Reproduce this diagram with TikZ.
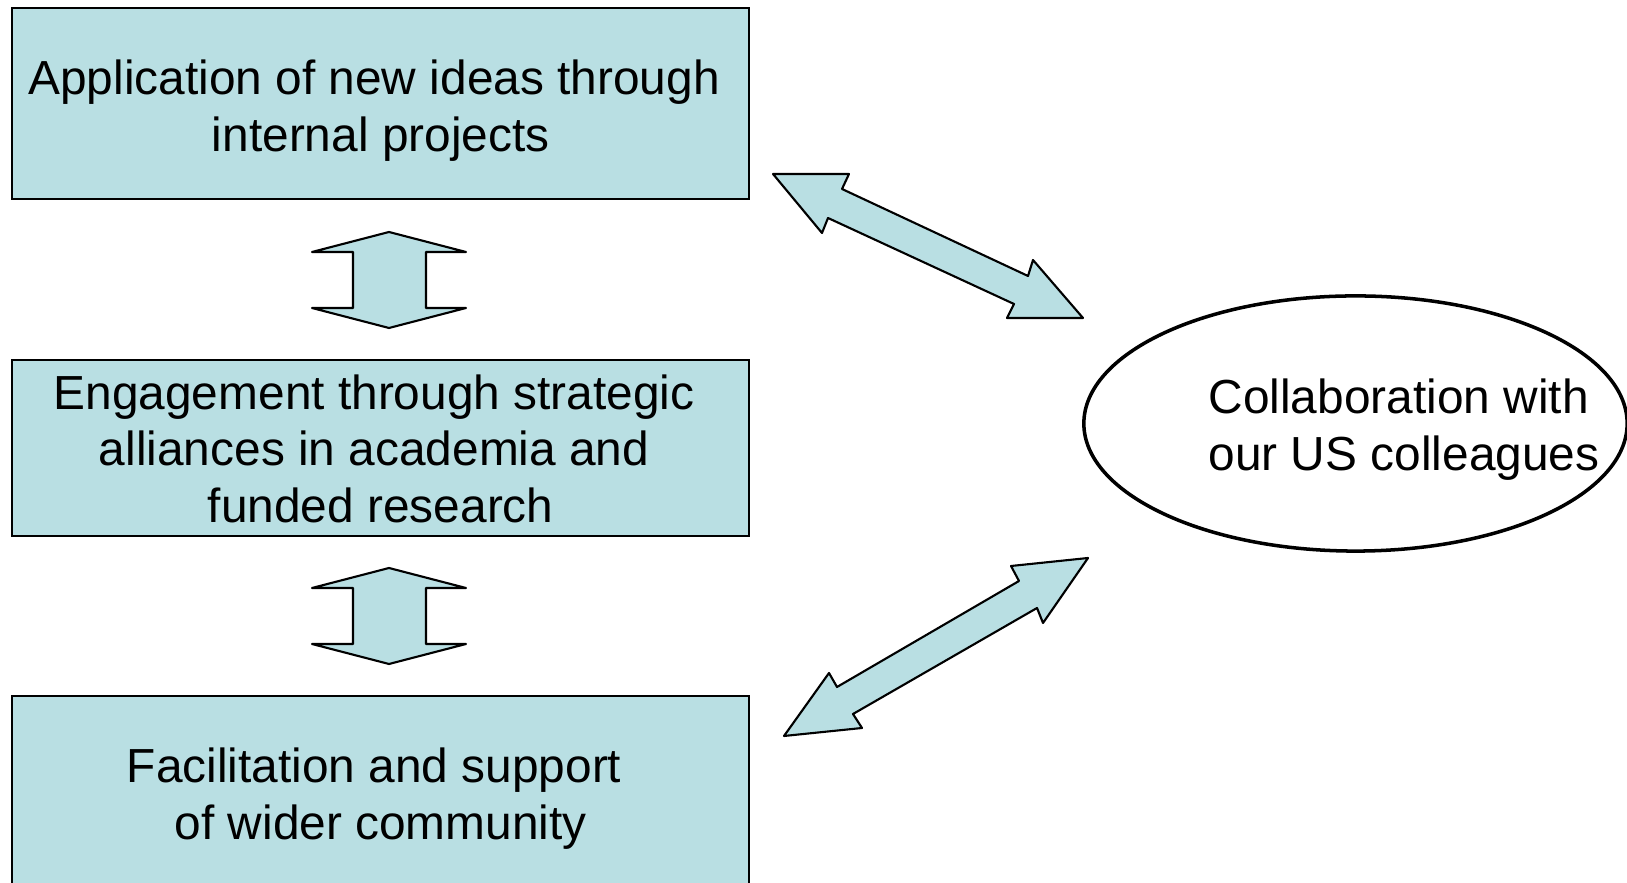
\documentclass[tikz,border=0pt]{standalone}
\usepackage{fontspec}
\setmainfont{Liberation Sans}
\usepackage{xcolor}
\usetikzlibrary{shapes.geometric}
\definecolor{paleblue}{RGB}{185,223,227}
\tikzset{
    boxnode/.style = {rectangle, draw=black, fill=paleblue, line width=0.6pt, inner sep=0pt, minimum width=7.365cm},
    boxtext/.style = {align=center, inner sep=0pt},
    collabnode/.style = {ellipse, draw=black, line width=1pt, minimum width=5.43cm, minimum height=2.55cm},
    blockarrow/.style = {draw=black, fill=paleblue, line width=0.6pt, line join=round}
}
% a line broken after a word keeps its trailing space
\newcommand{\tsp}{\kern.278em}

\begin{document}
\begin{tikzpicture}[
	x=0.01cm, y=-0.01cm,
	font=\fontsize{13.6}{16.2}\selectfont
]
\path[use as bounding box] (0,0) rectangle (1627,883);
\clip (0,0) rectangle (1627,883);
% the three activity boxes
\node[boxnode, minimum height=1.91cm] at (380.75,103.5) (app) {};
\node[boxnode, minimum height=1.76cm] at (380.75,448.2) (eng) {};
\node[boxnode, minimum height=1.96cm] at (380.75,794) (fac) {};
\node[boxtext] at (380.75,110.8) (apptext) {Application of new ideas through\tsp\\internal projects};
\node[boxtext] at (380.75,448.9) (engtext) {Engagement through strategic\tsp\\alliances in academia and\tsp\\funded research};
\node[boxtext] at (380.75,798.5) (factext) {Facilitation and support\tsp\\of wider community};
%
\node[collabnode] at (1355.5,423.5) (collab) {};
\node[align=left] at (1404,430) (collabtext) {Collaboration with\\our US colleagues};
%
% up/down block arrows between the boxes
\draw[blockarrow] (389,232) -- (466,252) -- (426,252) -- (426,308) -- (466,308) -- (389,328)
    -- (312,308) -- (353,308) -- (353,252) -- (312,252) -- cycle;
\draw[blockarrow] (389,568) -- (466,588) -- (426,588) -- (426,644) -- (466,644) -- (389,664)
    -- (312,644) -- (353,644) -- (353,588) -- (312,588) -- cycle;
%
% block arrows to the ellipse
\draw[blockarrow] (773,174) -- (849,174) -- (842,189) -- (1028,276) -- (1033,260) -- (1083,318)
    -- (1007,318) -- (1014,304) -- (828,218) -- (822,233) -- cycle;
\draw[blockarrow] (784,736) -- (829,673) -- (837,687) -- (1019,581) -- (1011,566) -- (1088,558)
    -- (1043,623) -- (1037,608) -- (853,714) -- (862,728) -- cycle;
\end{tikzpicture}
\end{document}
